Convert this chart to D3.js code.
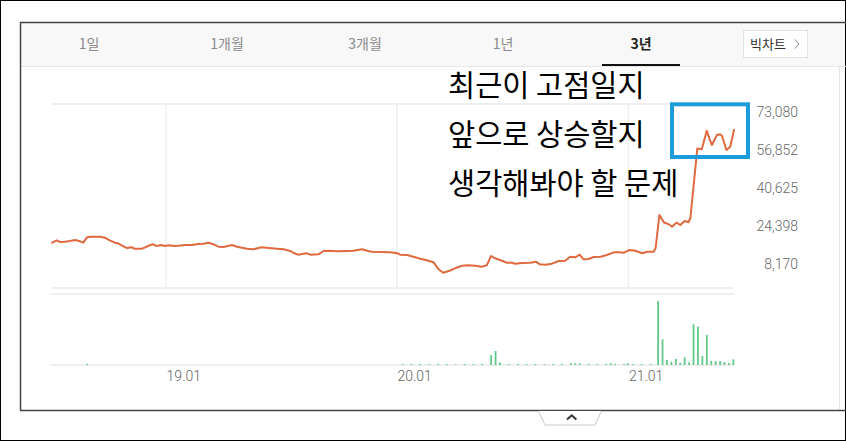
<!DOCTYPE html>
<html><head><meta charset="utf-8">
<script src="https://cdn.jsdelivr.net/npm/d3@7"></script>
<style>
html,body{margin:0;padding:0;background:#fff;}
svg{display:block;}
</style></head>
<body>
<svg id="c" width="846" height="441"></svg>
<script>
// ---------- data ----------
const tabs = ["1일", "1개월", "3개월", "1년", "3년"];
const selectedTab = "3년";
const bigChartLabel = "빅차트";
const annotation = ["최근이 고점일지", "앞으로 상승할지", "생각해봐야 할 문제"];
const priceTicks = [8170, 24398, 40625, 56852, 73080];
const dateTicks = ["2019-01-01", "2020-01-01", "2021-01-01"];
const priceDates = [
"2018-07-05","2018-07-12","2018-07-17","2018-07-25","2018-08-02","2018-08-10","2018-08-18","2018-08-23","2018-08-29","2018-09-05",
"2018-09-19","2018-09-26","2018-10-04","2018-10-12","2018-10-17","2018-10-25","2018-10-31","2018-11-07","2018-11-13","2018-11-24",
"2018-11-29","2018-12-07","2018-12-12","2018-12-17","2018-12-24","2018-12-30","2019-01-06","2019-01-13","2019-01-20","2019-01-31",
"2019-02-11","2019-02-21","2019-03-01","2019-03-09","2019-03-17","2019-03-25","2019-04-02","2019-04-10","2019-04-15","2019-04-23",
"2019-05-01","2019-05-09","2019-05-19","2019-06-01","2019-06-12","2019-06-25","2019-07-06","2019-07-16","2019-07-21","2019-07-29",
"2019-08-06","2019-08-12","2019-08-17","2019-08-30","2019-09-07","2019-09-15","2019-09-28","2019-10-14","2019-10-24","2019-11-07",
"2019-11-15","2019-11-22","2019-12-06","2019-12-21","2020-01-02","2020-01-06","2020-01-17","2020-01-27","2020-02-07","2020-02-17",
"2020-02-28","2020-03-07","2020-03-14","2020-03-23","2020-04-02","2020-04-13","2020-04-23","2020-05-04","2020-05-14","2020-05-22",
"2020-05-29","2020-06-04","2020-06-15","2020-06-23","2020-07-01","2020-07-06","2020-07-17","2020-07-30","2020-08-08","2020-08-14",
"2020-08-23","2020-09-02","2020-09-13","2020-09-23","2020-10-01","2020-10-09","2020-10-16","2020-10-22","2020-10-30","2020-11-07",
"2020-11-18","2020-11-28","2020-12-09","2020-12-17","2020-12-25","2021-01-02","2021-01-12","2021-01-23","2021-01-31","2021-02-10",
"2021-02-13","2021-02-19","2021-02-26","2021-03-06","2021-03-11","2021-03-18","2021-03-24","2021-03-31","2021-04-06","2021-04-09",
"2021-04-20","2021-04-27","2021-05-05","2021-05-09","2021-05-13","2021-05-21","2021-05-26","2021-05-29","2021-06-05","2021-06-11",
"2021-06-17"];
const priceValues = [
17360,18380,17660,17780,18080,18510,17950,17360,19650,19910,
19910,19480,18380,17360,17100,15950,15100,15400,14810,14810,
15400,16380,16680,15950,16380,15950,16250,15950,16080,16380,
16380,16800,16930,17360,16680,15660,15530,16080,16380,15660,
15230,14810,14550,15400,15100,14810,14550,13830,13100,12250,
12680,12850,12250,12420,13830,13960,13700,13830,13960,14550,
13960,13530,13400,13270,12850,12250,12130,11400,10550,9870,
9020,6040,4600,5320,6470,7570,7740,7570,7150,7740,
11700,10720,9700,8850,8850,8430,8720,8850,9280,8170,
8000,8430,9570,9700,11400,11150,12250,10300,10420,11280,
11400,12130,13270,13270,13100,14250,13960,12850,13530,13530,
14980,29140,26040,25180,24160,25860,24890,26590,26040,27740,
57430,57090,65000,61760,58910,63170,63470,62870,56790,58190,
65300];
const volumeDates = [
"2018-08-29","2020-01-10","2020-01-24","2020-02-07","2020-02-21","2020-03-06","2020-03-20","2020-04-03","2020-04-17","2020-05-01",
"2020-05-15","2020-05-29","2020-06-05","2020-06-12","2020-06-26","2020-07-10","2020-07-24","2020-08-07","2020-08-21","2020-09-04",
"2020-09-18","2020-10-02","2020-10-09","2020-10-16","2020-10-30","2020-11-13","2020-11-27","2020-12-04","2020-12-11","2020-12-25",
"2020-12-31","2021-01-08","2021-01-22","2021-02-05","2021-02-17","2021-02-24","2021-03-03","2021-03-10","2021-03-17","2021-03-24",
"2021-03-31","2021-04-07","2021-04-14","2021-04-21","2021-04-28","2021-05-05","2021-05-12","2021-05-19","2021-05-26","2021-06-02",
"2021-06-09","2021-06-16"];
const volumeValues = [
14,12,12,14,12,14,12,12,14,12,
14,141,197,35,12,14,12,14,12,14,
12,25,25,25,14,12,14,25,12,14,
25,12,14,12,900,362,70,46,85,32,
108,38,573,539,127,423,56,56,56,42,
28,80];

// ---------- layout ----------
const W = 846, H = 441;
const plotL = 51, plotR = 734;
const priceTop = 104, priceBot = 288;
const volTop = 294, volBot = 365;
const parse = d3.timeParse("%Y-%m-%d");

const svg = d3.select("#c");
const KR = "'Noto Sans CJK KR','Noto Sans',sans-serif";

// outer frame
svg.append("rect").attr("x",0.5).attr("y",0.5).attr("width",W-1).attr("height",H-1)
  .attr("fill","#fff").attr("stroke","#000").attr("stroke-width",1);

// tab bar
svg.append("rect").attr("x",20).attr("y",23).attr("width",W-21).attr("height",43).attr("fill","#f8f8f8");
svg.append("line").attr("x1",20).attr("x2",W).attr("y1",66.5).attr("y2",66.5).attr("stroke","#e6e6e6");
const tabW = 138;
svg.selectAll("text.tab").data(tabs).join("text").attr("class","tab")
  .attr("x",(d,i)=>20+tabW*(i+0.5)).attr("y",49)
  .attr("text-anchor","middle").attr("font-family",KR).attr("font-size",14)
  .attr("font-weight",d=>d===selectedTab?700:400)
  .attr("fill",d=>d===selectedTab?"#222":"#8a8a8a").text(d=>d);
const selIdx = tabs.indexOf(selectedTab);
svg.append("line").attr("x1",20+tabW*(selIdx+0.5)-39).attr("x2",20+tabW*(selIdx+0.5)+39)
  .attr("y1",65).attr("y2",65).attr("stroke","#111").attr("stroke-width",2);
// big chart button
svg.append("rect").attr("x",743.5).attr("y",30.5).attr("width",64).attr("height",27)
  .attr("fill","#fff").attr("stroke","#e2e2e2");
svg.append("text").attr("x",750).attr("y",48.5).attr("font-family",KR).attr("font-size",13)
  .attr("fill","#333").text(bigChartLabel);
svg.append("path").attr("d","M795,39.5 L799,44 L795,48.5").attr("fill","none").attr("stroke","#888").attr("stroke-width",1);

// dark capture frame lines
svg.append("line").attr("x1",20).attr("x2",W).attr("y1",22.5).attr("y2",22.5).attr("stroke","#444").attr("stroke-width",1.5);
svg.append("line").attr("x1",20.5).attr("x2",20.5).attr("y1",22).attr("y2",410).attr("stroke","#444").attr("stroke-width",1.5);
svg.append("line").attr("x1",839.5).attr("x2",839.5).attr("y1",67).attr("y2",409).attr("stroke","#e3e3e3");

// scales
const x = d3.scaleTime().domain([parse("2018-07-03"), parse("2021-06-17")]).range([plotL, plotR]);
const y = d3.scaleLinear().domain([-1910, 76355]).range([priceBot, priceTop]);
const yv = d3.scaleLinear().domain([0, 1000]).range([volBot, volTop]);

const gridC = "#efefef";
// price frame
svg.append("line").attr("x1",plotL).attr("x2",plotR).attr("y1",priceTop).attr("y2",priceTop).attr("stroke",gridC).attr("stroke-width",2);
svg.append("line").attr("x1",plotL).attr("x2",plotR).attr("y1",priceBot).attr("y2",priceBot).attr("stroke",gridC).attr("stroke-width",2);
// vertical grid
const tickDates = dateTicks.map(parse);
svg.selectAll("line.vg").data(tickDates).join("line").attr("class","vg")
  .attr("x1",d=>x(d)).attr("x2",d=>x(d)).attr("y1",priceTop).attr("y2",priceBot)
  .attr("stroke",gridC).attr("stroke-width",1.5);
// volume frame
svg.append("line").attr("x1",plotL).attr("x2",plotR).attr("y1",volTop).attr("y2",volTop).attr("stroke",gridC).attr("stroke-width",2);
svg.append("line").attr("x1",plotL).attr("x2",plotR).attr("y1",volBot).attr("y2",volBot).attr("stroke",gridC).attr("stroke-width",2);

// price axis (right)
const ay = svg.append("g").attr("transform",`translate(798,0)`)
  .call(d3.axisRight(y).tickValues(priceTicks).tickFormat(d3.format(",")).tickSize(0));
ay.select(".domain").remove();
ay.selectAll("text").attr("x",0).attr("text-anchor","end")
  .attr("font-family","Roboto, sans-serif").attr("font-weight",300).attr("font-size",14).attr("fill","#666");

// date axis
const ax = svg.append("g").attr("transform",`translate(0,${volBot})`)
  .call(d3.axisBottom(x).tickValues(tickDates).tickFormat(d3.timeFormat("%y.%m")).tickSize(0));
ax.select(".domain").remove();
ax.selectAll("text").attr("text-anchor","start").attr("dy",0).attr("y",16)
  .attr("font-family","Roboto, sans-serif").attr("font-weight",300).attr("font-size",14).attr("fill","#666");

// volume bars
const vol = volumeDates.map((d,i)=>({d:parse(d), v:volumeValues[i]}));
svg.selectAll("rect.vb").data(vol).join("rect").attr("class","vb")
  .attr("x",d=>x(d.d)-0.9).attr("width",1.8)
  .attr("y",d=>yv(d.v)).attr("height",d=>volBot-yv(d.v))
  .attr("fill","#62c98a");

// price line
const price = priceDates.map((d,i)=>({d:parse(d), v:priceValues[i]}));
svg.append("path").datum(price)
  .attr("d", d3.line().x(d=>x(d.d)).y(d=>y(d.v)))
  .attr("fill","none").attr("stroke","#e0693f").attr("stroke-width",2)
  .attr("stroke-linejoin","round").attr("stroke-linecap","round");

// highlight box
svg.append("rect").attr("x",672).attr("y",104.3).attr("width",76).attr("height",52.7)
  .attr("fill","none").attr("stroke","#1b9ddb").attr("stroke-width",4);

// annotation
svg.selectAll("text.ann").data(annotation).join("text").attr("class","ann")
  .attr("x",448).attr("y",(d,i)=>96+i*49)
  .attr("font-family",KR).attr("font-size",29.5).attr("fill","#000").text(d=>d);

// bottom line and handle
svg.append("line").attr("x1",20).attr("x2",W).attr("y1",410.5).attr("y2",410.5).attr("stroke","#444").attr("stroke-width",1.5);
svg.append("path").attr("d","M538.5,411 L545,425 L595,425 L601.5,411").attr("fill","#fff").attr("stroke","#c8c8c8");
svg.append("path").attr("d","M567,419.5 L571.7,415.3 L576.4,419.5").attr("fill","none").attr("stroke","#333").attr("stroke-width",2);
</script>
</body></html>
